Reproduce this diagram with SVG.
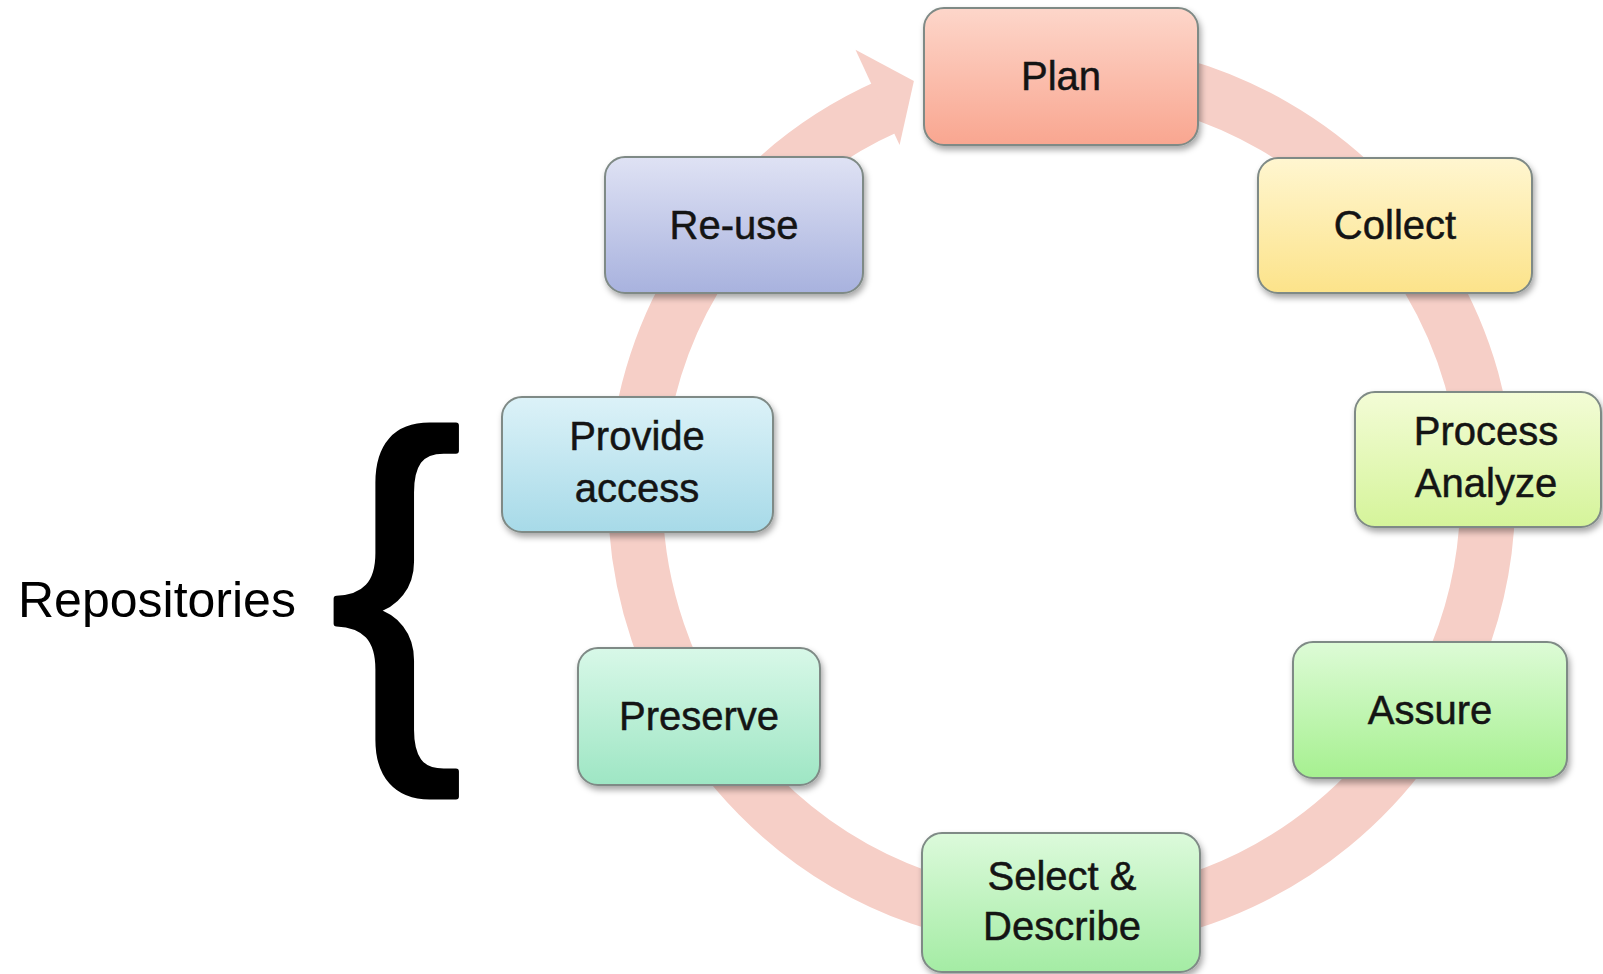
<svg xmlns="http://www.w3.org/2000/svg" width="1603" height="974" viewBox="0 0 1603 974">
<style>
.box{stroke:#7f8a86;stroke-width:2;filter:url(#sh)}
.lbl{font-family:"Liberation Sans",Arial,sans-serif;font-size:40px;fill:#141414;stroke:#141414;stroke-width:0.5;text-anchor:middle}
.ring{fill:none;stroke:#f6cfc7;stroke-width:55}
</style>
<defs>
<filter id="sh" x="-10%" y="-10%" width="130%" height="140%">
<feDropShadow dx="2" dy="4" stdDeviation="3" flood-color="#000" flood-opacity="0.35"/>
</filter>
<linearGradient id="gPlan" x1="0" y1="0" x2="0" y2="1"><stop offset="0" stop-color="#fdd6ca"/><stop offset="1" stop-color="#f9a690"/></linearGradient>
<linearGradient id="gCollect" x1="0" y1="0" x2="0" y2="1"><stop offset="0" stop-color="#fff6d0"/><stop offset="1" stop-color="#fce38a"/></linearGradient>
<linearGradient id="gProcess" x1="0" y1="0" x2="0" y2="1"><stop offset="0" stop-color="#f3fcd6"/><stop offset="1" stop-color="#d5f49a"/></linearGradient>
<linearGradient id="gAssure" x1="0" y1="0" x2="0" y2="1"><stop offset="0" stop-color="#ddfbd6"/><stop offset="1" stop-color="#a6f090"/></linearGradient>
<linearGradient id="gSelect" x1="0" y1="0" x2="0" y2="1"><stop offset="0" stop-color="#dcfadb"/><stop offset="1" stop-color="#a4eca4"/></linearGradient>
<linearGradient id="gPreserve" x1="0" y1="0" x2="0" y2="1"><stop offset="0" stop-color="#d8f8e8"/><stop offset="1" stop-color="#9ee6c4"/></linearGradient>
<linearGradient id="gProvide" x1="0" y1="0" x2="0" y2="1"><stop offset="0" stop-color="#dcf2f8"/><stop offset="1" stop-color="#a7dae8"/></linearGradient>
<linearGradient id="gReuse" x1="0" y1="0" x2="0" y2="1"><stop offset="0" stop-color="#dfe2f4"/><stop offset="1" stop-color="#a8b2de"/></linearGradient>
</defs>
<rect width="1603" height="974" fill="#fff"/>
<g id="connectors">
<path class="ring" d="M1091.2,70.4 A426.2,426.2 0 1 1 888.2,106.2"/>
<polygon points="855.5,49.7 913.9,80.9 899.6,145.0" fill="#f6cfc7"/>
</g>
<g id="plan"><rect class="box" x="924" y="8" width="274" height="137" rx="20" fill="url(#gPlan)"/><text class="lbl" x="1061" y="90">Plan</text></g>
<g id="collect"><rect class="box" x="1258" y="158" width="274" height="135" rx="20" fill="url(#gCollect)"/><text class="lbl" x="1395" y="239">Collect</text></g>
<g id="process"><rect class="box" x="1355" y="392" width="246" height="135" rx="20" fill="url(#gProcess)"/><text class="lbl" x="1486" y="445">Process</text><text class="lbl" x="1486" y="497">Analyze</text></g>
<g id="assure"><rect class="box" x="1293" y="642" width="274" height="136" rx="20" fill="url(#gAssure)"/><text class="lbl" x="1430" y="724">Assure</text></g>
<g id="select"><rect class="box" x="922" y="833" width="278" height="139" rx="20" fill="url(#gSelect)"/><text class="lbl" x="1062" y="890">Select &amp;</text><text class="lbl" x="1062" y="940">Describe</text></g>
<g id="preserve"><rect class="box" x="578" y="648" width="242" height="137" rx="20" fill="url(#gPreserve)"/><text class="lbl" x="699" y="730">Preserve</text></g>
<g id="provide"><rect class="box" x="502" y="397" width="271" height="135" rx="20" fill="url(#gProvide)"/><text class="lbl" x="637" y="450">Provide</text><text class="lbl" x="637" y="502">access</text></g>
<g id="reuse"><rect class="box" x="605" y="157" width="258" height="136" rx="20" fill="url(#gReuse)"/><text class="lbl" x="734" y="239">Re-use</text></g>
<g id="repositories">
<text x="18" y="617" font-family="Liberation Sans, Arial, sans-serif" font-size="50" fill="#000">Repositories</text>
<text x="330" y="714" font-family="Liberation Sans, Arial, sans-serif" font-size="398" fill="#000" stroke="#000" stroke-width="6" stroke-linejoin="round">{</text>
</g>
</svg>
